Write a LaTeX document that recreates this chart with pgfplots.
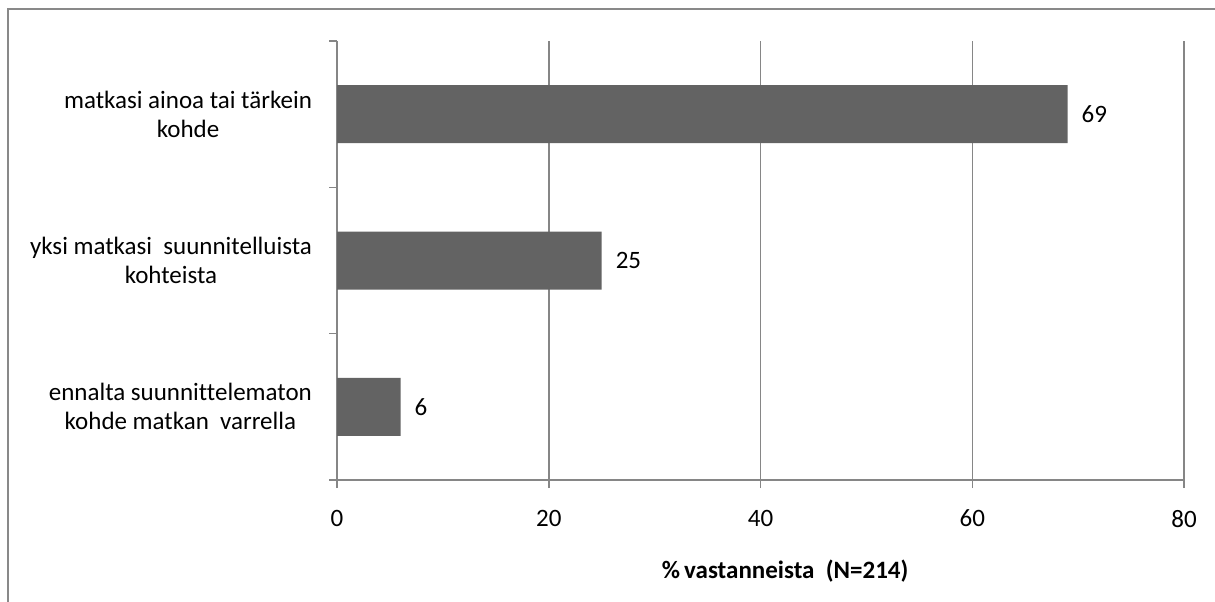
\documentclass[border=0pt]{standalone}
\usepackage{fontspec}
\setmainfont{Carlito}
\newfontfamily\catfont[Ligatures=NoCommon]{Carlito}
\usepackage{pgfplots}
\pgfplotsset{compat=1.18}
\definecolor{axgray}{RGB}{134,134,134}
\definecolor{framegray}{RGB}{137,137,137}
\definecolor{barfill}{RGB}{99,99,99}
\begin{document}
\begin{tikzpicture}
\useasboundingbox (0pt,0pt) rectangle (607.5pt,-300.5pt);
\draw[framegray, line width=0.75pt] (4pt,-302pt) -- (4pt,-4.5pt) -- (609pt,-4.5pt);
\begin{axis}[
  at={(168.5pt,-20.5pt)}, anchor=north west,
  scale only axis, width=423.5pt, height=219.5pt,
  xmin=0, xmax=80, ymin=-0.5, ymax=2.5,
  axis lines=left,
  axis line style={-, axgray, line width=0.75pt},
  xtick={0,20,40,60,80},
  xmajorgrids, grid style={axgray, line width=0.75pt},
  tick align=outside, major tick length=4pt,
  xtick style={draw=axgray, line width=0.75pt},
  ytick={0,1,2},
  yticklabels={{ennalta suunnittelematon\\kohde matkan\ \ varrella},{yksi matkasi\ \ suunnitelluista\\kohteista},{matkasi ainoa tai tärkein\\kohde}},
  ytick style={draw=none},
  extra y ticks={-0.5,0.5,1.5,2.5},
  extra y tick labels={},
  extra y tick style={ytick style={draw=axgray, line width=0.75pt}},
  yticklabel style={anchor=east, align=center, font={\catfont\fontsize{12.5}{14.5}\selectfont}, xshift=-5pt},
  xticklabel style={font={\fontsize{12.5}{14}\selectfont}, yshift=-7.5pt},
  /pgf/number format/assume math mode=true,
  xlabel={\textbf{\%\,vastanneista\ \ (N=214)}},
  xlabel style={at={(axis description cs:0.529,-0.207)}, anchor=center, font={\fontsize{12.5}{14}\selectfont}},
  xbar, bar width=29pt,
  nodes near coords,
  nodes near coords align={horizontal},
  every node near coord/.append style={font={\fontsize{12.5}{14}\selectfont}, black, xshift=3.5pt},
]
\addplot[fill=barfill, draw=none] coordinates {(69,2) (25,1) (6,0)};
\end{axis}
\end{tikzpicture}
\end{document}
